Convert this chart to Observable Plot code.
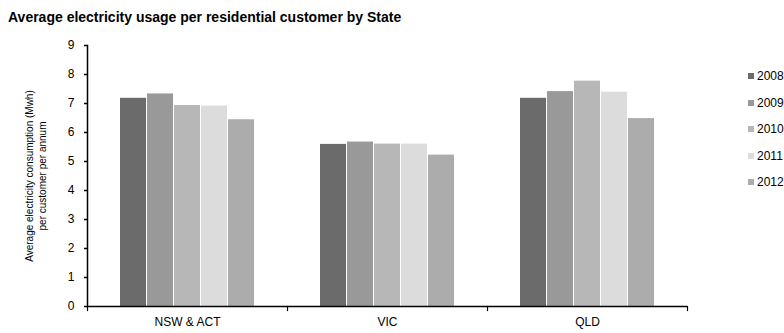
<!DOCTYPE html>
<html><head><meta charset="utf-8">
<script src="https://cdn.jsdelivr.net/npm/d3@7"></script>
<script src="https://cdn.jsdelivr.net/npm/@observablehq/plot@0.6"></script>
<style>
body{margin:0;background:#fff;font-family:Arial,"Liberation Sans",sans-serif;color:#000;}
#wrap{position:relative;width:784px;height:333px;overflow:hidden;}
#title{position:absolute;left:8px;top:9px;font-weight:bold;font-size:14px;line-height:16px;white-space:nowrap;}
#chart{position:absolute;left:0;top:30px;}
#ylabel{position:absolute;left:35.5px;top:176px;transform:translate(-50%,-50%) rotate(-90deg);font-size:10px;line-height:12.5px;text-align:center;white-space:nowrap;}
#legend{position:absolute;left:748px;top:63px;font-size:12px;}
.item{display:flex;align-items:center;height:26.5px;}
.sw{width:6px;height:6px;margin-right:3px;}
</style></head>
<body>
<div id="wrap">
  <div id="title"></div>
  <div id="chart"></div>
  <div id="ylabel"></div>
  <div id="legend"></div>
</div>
<script>
const title = "Average electricity usage per residential customer by State";
const yLabelLines = ["Average electricity consumption (Mwh)", "per customer per annum"];
const states = ["NSW & ACT", "VIC", "QLD"];
const years = ["2008", "2009", "2010", "2011", "2012"];
const v2008 = [7.18, 5.59, 7.18];
const v2009 = [7.33, 5.67, 7.41];
const v2010 = [6.93, 5.60, 7.77];
const v2011 = [6.91, 5.60, 7.39];
const v2012 = [6.44, 5.22, 6.48];
const yTicks = [0, 1, 2, 3, 4, 5, 6, 7, 8, 9];
const colors = ["#6b6b6b", "#999999", "#b7b7b7", "#dcdcdc", "#acacac"];

const series = [v2008, v2009, v2010, v2011, v2012];
const rows = [];
states.forEach((s, i) => years.forEach((y, j) => rows.push({state: s, year: y, value: series[j][i]})));

document.getElementById("title").textContent = title;
document.getElementById("ylabel").innerHTML = yLabelLines.map(t => `<div>${t.replace(/&/g,"&amp;")}</div>`).join("");

const innerH = 303 - 15 - 27;
const chart = Plot.plot({
  width: 784,
  height: 303,
  marginLeft: 86,
  marginRight: 97,
  marginTop: 15,
  marginBottom: 27,
  style: {fontFamily: "Arial, 'Liberation Sans', sans-serif", fontSize: "12px", color: "#000", background: "#fff"},
  fx: {domain: states, padding: 0, label: null},
  x: {domain: years, paddingInner: 0.05, paddingOuter: 1.185, axis: null},
  y: {domain: [0, 9], axis: null},
  color: {domain: years, range: colors},
  marks: [
    Plot.barY(rows, {fx: "state", x: "year", y: "value", fill: "year"}),
    Plot.ruleY([0], {stroke: "#000", strokeWidth: 1.5}),
    Plot.frame({anchor: "left", insetTop: innerH, insetBottom: -4, stroke: "#000", strokeWidth: 1.2}),
    Plot.frame({anchor: "right", insetTop: innerH, insetBottom: -4, stroke: "#000", strokeWidth: 1.2, facetAnchor: "right"}),
    Plot.frame({anchor: "left", stroke: "#000", strokeWidth: 1.5, facetAnchor: "left"}),
    Plot.axisY({ticks: yTicks, tickSize: 3, tickPadding: 10, label: null, stroke: "#000", strokeWidth: 1.5, fontSize: 12}),
    Plot.axisFx({anchor: "bottom", tickSize: 0, tickPadding: 11, label: null, fontSize: 12})
  ]
});
document.getElementById("chart").appendChild(chart);

const legend = document.getElementById("legend");
years.forEach((y, j) => {
  const it = document.createElement("div");
  it.className = "item";
  it.innerHTML = `<span class="sw" style="background:${colors[j]}"></span><span>${y}</span>`;
  legend.appendChild(it);
});
</script>
</body></html>
